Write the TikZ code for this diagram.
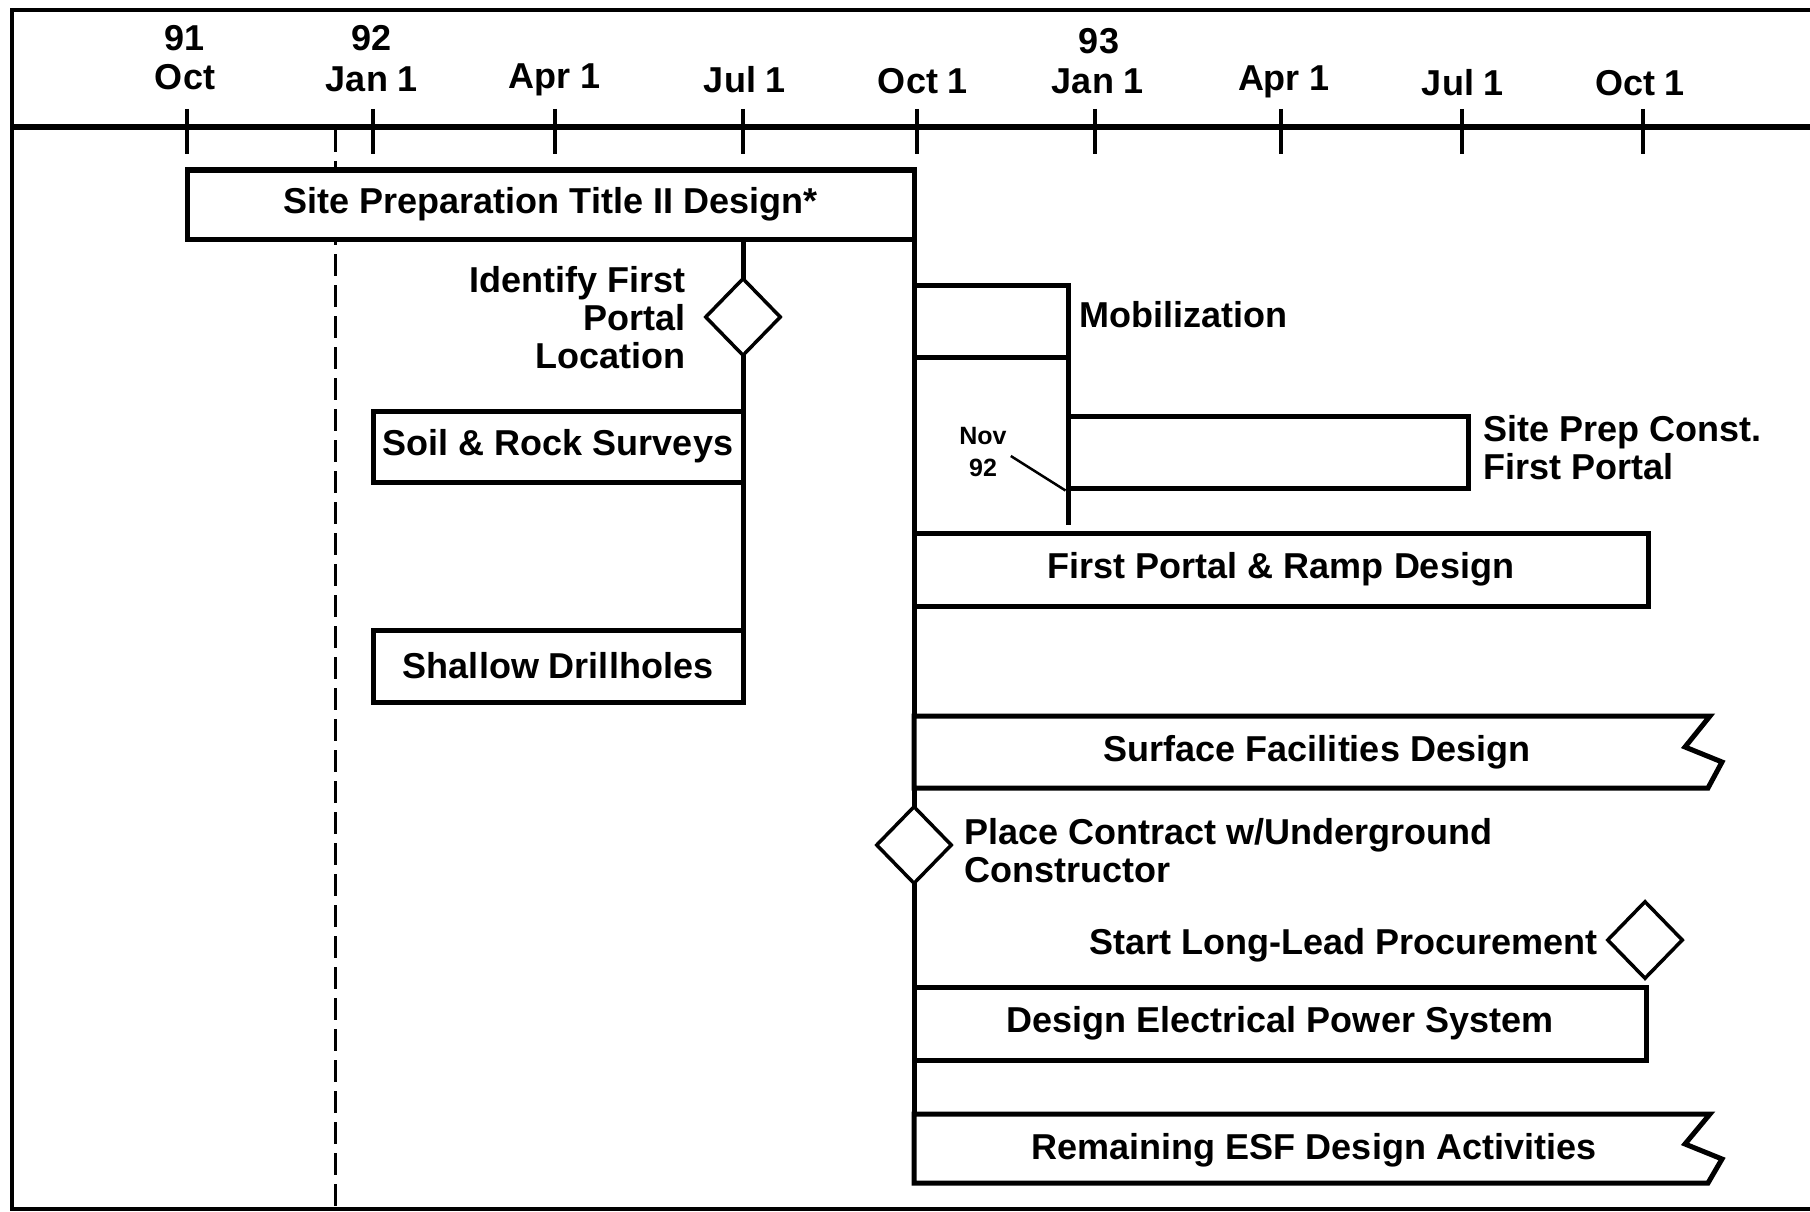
\documentclass[tikz,border=0pt]{standalone}
\usepackage{fontspec}
\setmainfont{Liberation Sans}
\usetikzlibrary{shapes.geometric}
\begin{document}
\begin{tikzpicture}[x=1pt,y=-1pt,
  big/.style={font=\fontsize{36}{38}\selectfont\bfseries, inner sep=0pt},
  small/.style={font=\fontsize{25}{32}\selectfont\bfseries, inner sep=0pt, align=center},
  bar/.style={draw, line width=5pt, fill=white, inner sep=0pt, font=\fontsize{36}{38}\selectfont\bfseries},
  ms/.style={diamond, draw, fill=white, line width=3.5pt, minimum width=76pt, minimum height=78pt, inner sep=0pt},
  tickmark/.style={line width=3.5pt},
  ln/.style={line width=5pt},
  frame/.style={line width=3.5pt}
]
\useasboundingbox (0,0) rectangle (1810,1212);
% frame and axis
\draw[frame] (1810,10) -- (12,10) -- (12,1209) -- (1810,1209);
\draw[line width=6pt] (12,127) -- (1810,127);
% ticks
\foreach \n/\x in {t1/187,t2/373,t3/555,t4/743,t5/917,t6/1095,t7/1281,t8/1462,t9/1643}{
  \coordinate (\n) at (\x,127);
  \draw[tickmark] (\x,109) -- (\x,154);
}
% axis labels
\node[big] (y91) at (185,38) {91};
\node[big] (m1) at (185,77) {Oct};
\node[big] (y92) at (372,38) {92};
\node[big] (m2) at (372,79) {Jan 1};
\node[big] (m3) at (555,80) {Apr 1};
\node[big] (m4) at (745,80) {Jul 1};
\node[big] (m5) at (923,81) {Oct 1};
\node[big] (y93) at (1099,41) {93};
\node[big] (m6) at (1098,81) {Jan 1};
\node[big] (m7) at (1284,82) {Apr 1};
\node[big] (m8) at (1463,83) {Jul 1};
\node[big] (m9) at (1640,83) {Oct 1};
% dashed "today" line
\coordinate (dtop) at (335,130);
\coordinate (dbot) at (335,1207);
\draw[line width=3pt, dash pattern=on 22pt off 9pt] (dtop) -- (dbot);
% main vertical lines
\coordinate (jtop) at (743,239);
\coordinate (jbot) at (743,702);
\draw[ln] (jtop) -- (jbot);
\coordinate (otop) at (914,170);
\coordinate (obot) at (914,1183);
\draw[ln] (otop) -- (obot);
\coordinate (ntop) at (1068,285);
\coordinate (nbot) at (1068,525);
\draw[ln] (ntop) -- (nbot);
% bars
\node[bar, minimum width=727pt, minimum height=69pt] (sitep) at (550.5,204.5) {Site Preparation Title II Design*};
\node[bar, minimum width=370pt, minimum height=71pt] (soil) at (558,446.5) {Soil \& Rock Surveys};
\node[bar, minimum width=370pt, minimum height=72pt] (shallow) at (558,666) {Shallow Drillholes};
\node[bar, minimum width=154pt, minimum height=72pt] (mobil) at (991,321) {};
\node[bar, minimum width=400pt, minimum height=72pt] (spconst) at (1268,452) {};
\node[bar, minimum width=734pt, minimum height=73pt] (fpramp) at (1281,569.5) {First Portal \& Ramp Design};
\node[bar, minimum width=732pt, minimum height=73pt] (elec) at (1280,1023.5) {Design Electrical Power System};
\draw[ln, fill=white] (914,716) -- (1710,716) -- (1685,747) -- (1722,762) -- (1708,788) -- (914,788) -- cycle;
\node[big] (sfd) at (1317,752) {Surface Facilities Design};
\draw[ln, fill=white] (914,1114) -- (1710,1114) -- (1685,1144) -- (1722,1159) -- (1708,1183) -- (914,1183) -- cycle;
\node[big] (resf) at (1314,1150) {Remaining ESF Design Activities};
% milestones
\node[ms] (ident) at (743,317) {};
\node[ms] (place) at (914,845) {};
\node[ms] (longlead) at (1645,940) {};
% labels
\node[big, align=right, anchor=east] (identl) at (686,318) {Identify First\\Portal\\Location};
\node[big, anchor=west] (mobl) at (1079,315) {Mobilization};
\node[big, align=left, anchor=west] (spl) at (1483,448) {Site Prep Const.\\First Portal};
\node[small] (nov) at (983,452) {Nov\\92};
\draw[line width=2.5pt] (nov.east) ++(4,4) -- (spconst.south west);
\node[big, align=left, anchor=west] (placel) at (964,851) {Place Contract w/Underground\\Constructor};
\node[big, anchor=east] (lll) at (1598,945) {Start Long-Lead Procurement};
\end{tikzpicture}
\end{document}
